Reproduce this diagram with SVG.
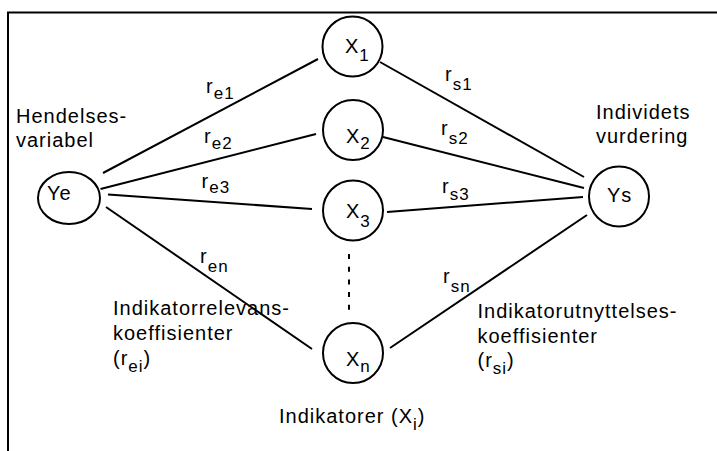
<svg xmlns="http://www.w3.org/2000/svg" width="717" height="451" viewBox="0 0 717 451">
<style>
  .n { fill: #fff; stroke: #000; stroke-width: 2; }
  .t { font-family: "Liberation Sans", Arial, sans-serif; font-size: 20px; letter-spacing: 1px; fill: #000; }
  .s { font-size: 17px; }
  .c line { stroke: #000; stroke-width: 2; }
</style>
<rect width="717" height="451" fill="#fff"/>
<path d="M8 451 V12.5 H717" fill="none" stroke="#000" stroke-width="2"/>
<g id="connectors" class="c">
  <line x1="103" y1="173" x2="318" y2="59"/>
  <line x1="100.5" y1="189" x2="316" y2="134"/>
  <line x1="108" y1="194.5" x2="312" y2="209"/>
  <line x1="106" y1="207" x2="312" y2="349"/>
  <line x1="380" y1="62" x2="584" y2="177"/>
  <line x1="383" y1="137" x2="584" y2="188"/>
  <line x1="387" y1="212" x2="583" y2="197"/>
  <line x1="390" y1="348" x2="587" y2="215"/>
  <line x1="349" y1="254" x2="349" y2="310" stroke-dasharray="5 7.7"/>
</g>
<g id="labels" class="t">
  <text x="206" y="92.5">r<tspan class="s" dy="6.5">e1</tspan></text>
  <text x="204" y="142.5">r<tspan class="s" dy="6.5">e2</tspan></text>
  <text x="201.5" y="188">r<tspan class="s" dy="5">e3</tspan></text>
  <text x="200" y="263">r<tspan class="s" dy="8.5">en</tspan></text>
  <text x="445" y="80.5">r<tspan class="s" dy="9">s1</tspan></text>
  <text x="441" y="135">r<tspan class="s" dy="9">s2</tspan></text>
  <text x="442" y="193">r<tspan class="s" dy="7">s3</tspan></text>
  <text x="443" y="283">r<tspan class="s" dy="9">sn</tspan></text>
  <text x="113" y="315">Indikatorrelevans-</text>
  <text x="113" y="340">koeffisienter</text>
  <text x="113" y="364.5">(r<tspan class="s" dy="7">ei</tspan><tspan dy="-7">)</tspan></text>
  <text x="477.5" y="318">Indikatorutnyttelses-</text>
  <text x="477.5" y="342.5">koeffisienter</text>
  <text x="477.5" y="366.5">(r<tspan class="s" dy="7.5">si</tspan><tspan dy="-7.5">)</tspan></text>
  <text x="279" y="422.5">Indikatorer (X<tspan class="s" dy="7">i</tspan><tspan dy="-7">)</tspan></text>
  <text x="16" y="123">Hendelses-</text>
  <text x="16" y="147">variabel</text>
  <text x="596" y="119">Individets</text>
  <text x="596" y="142.5">vurdering</text>
</g>
<g id="Ye">
  <ellipse class="n" cx="69" cy="198" rx="31" ry="26"/>
  <text class="t" x="47" y="199.5">Ye</text>
</g>
<g id="Ys">
  <circle class="n" cx="619" cy="196.5" r="30"/>
  <text class="t" x="607" y="201.5">Ys</text>
</g>
<g id="X1">
  <circle class="n" cx="352.5" cy="46.5" r="30"/>
  <text class="t" x="345" y="53">X<tspan class="s" dy="8">1</tspan></text>
</g>
<g id="X2">
  <circle class="n" cx="353" cy="130" r="30"/>
  <text class="t" x="346" y="143">X<tspan class="s" dy="6">2</tspan></text>
</g>
<g id="X3">
  <circle class="n" cx="353" cy="210.5" r="30"/>
  <text class="t" x="346" y="218">X<tspan class="s" dy="8.5">3</tspan></text>
</g>
<g id="Xn">
  <circle class="n" cx="353" cy="353" r="30"/>
  <text class="t" x="346" y="365.5">X<tspan class="s" dy="6.5">n</tspan></text>
</g>
</svg>
